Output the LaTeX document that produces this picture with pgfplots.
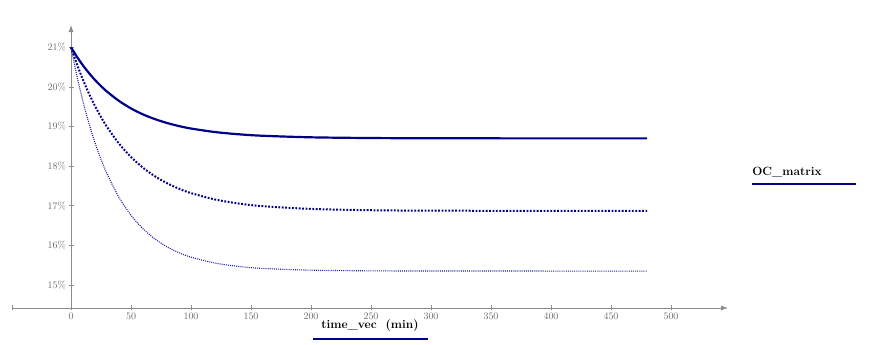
\documentclass[border=0pt]{standalone}
\usepackage{pgfplots}
\usepackage{pgfplotstable}
\pgfplotsset{compat=1.18}
\usetikzlibrary{arrows.meta}
\definecolor{navy}{RGB}{0,0,139}
\definecolor{thinblue}{RGB}{30,30,165}
\definecolor{axgray}{RGB}{140,140,140}
\definecolor{lblgray}{RGB}{105,105,105}
\pgfplotstableread{
t    s       m       th
0    21.000  21.000  21.000
5    20.758  20.566  20.267
10   20.542  20.177  19.630
15   20.348  19.829  19.075
20   20.175  19.518  18.592
25   20.020  19.240  18.172
30   19.881  18.990  17.806
40   19.646  18.568  17.210
50   19.457  18.230  16.759
60   19.306  17.959  16.417
70   19.186  17.742  16.159
80   19.089  17.568  15.962
90   19.011  17.429  15.814
100  18.949  17.318  15.701
120  18.860  17.157  15.552
140  18.803  17.054  15.466
160  18.766  16.988  15.416
200  18.727  16.919  15.372
250  18.709  16.886  15.355
300  18.703  16.875  15.351
400  18.700  16.870  15.350
480  18.700  16.870  15.350
}\OCdata
\begin{document}
\begin{tikzpicture}
\path[use as bounding box] (0,0) rectangle (872bp,345bp);
\begin{axis}[
  at={(12bp,37bp)}, anchor=south west,
  x=1.2bp, y=39.6bp,
  xmin=-49.17, xmax=547.5, ymin=14.417, ymax=21.563,
  axis x line=bottom, axis y line=middle,
  axis line style={axgray, line width=0.8bp, -{Latex[length=7bp,width=5bp]}},
  xtick={0,50,...,500},
  extra x ticks={-49.17}, extra x tick labels={},
  ytick={15,16,...,21},
  yticklabel={\pgfmathprintnumber{\tick}\%},
  tick align=center,
  major tick length=5bp,
  tick style={axgray, line width=0.6bp},
  ticklabel style={font=\normalsize, text=lblgray},
  xticklabel style={yshift=1bp},
  yticklabel style={xshift=1bp},
  clip=false,
]
\addplot[navy, line width=2.2bp, smooth] table[x=t, y=s] {\OCdata};
\addplot[navy, line width=2bp, smooth, dash pattern=on 1.8bp off 1.6bp] table[x=t, y=m] {\OCdata};
\addplot[thinblue, line width=1.1bp, smooth, dash pattern=on 1bp off 1.1bp] table[x=t, y=th] {\OCdata};
\end{axis}
\node[font=\bfseries\large] at (370bp,19bp) {time\_vec\ \ (min)};
\draw[navy, line width=2.5bp] (313bp,6bp) -- (428bp,6bp);
\node[font=\bfseries\large] at (787bp,173bp) {OC\_matrix};
\draw[navy, line width=2.5bp] (752bp,161bp) -- (856bp,161bp);
\end{tikzpicture}
\end{document}
